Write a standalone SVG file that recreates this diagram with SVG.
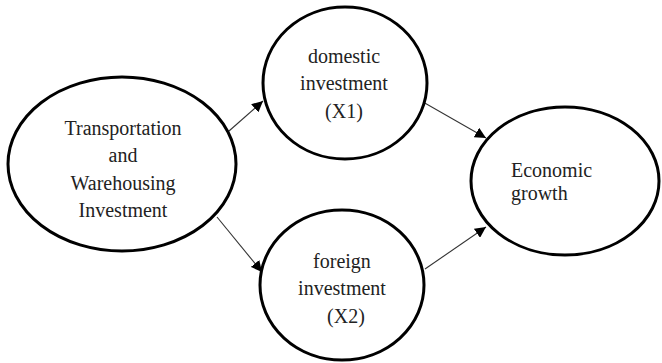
<svg xmlns="http://www.w3.org/2000/svg" width="662" height="363" viewBox="0 0 662 363">
<style>
.node{fill:#fff;stroke:#000;stroke-width:3}
.lbl{font-family:"Liberation Serif","DejaVu Serif",serif;font-size:20px;fill:#222}
.c{text-anchor:middle}
.edge{stroke:#333;stroke-width:1.1;fill:none;marker-end:url(#ah)}
</style>
<defs>
<marker id="ah" viewBox="0 0 10 10" refX="10" refY="5" markerWidth="11" markerHeight="11" markerUnits="userSpaceOnUse" orient="auto">
<path d="M0,0 L10,5 L0,10 z" fill="#000"/>
</marker>
</defs>
<g id="connectors">
<line class="edge" x1="229" y1="131" x2="263" y2="101"/>
<line class="edge" x1="217" y1="217" x2="262" y2="272"/>
<line class="edge" x1="423" y1="102" x2="486" y2="138"/>
<line class="edge" x1="425" y1="269" x2="486" y2="227"/>
</g>
<g id="n_transport">
<ellipse class="node" cx="122" cy="164" rx="114" ry="87"/>
<text class="lbl c" x="123" y="135">Transportation</text>
<text class="lbl c" x="123" y="162">and</text>
<text class="lbl c" x="123" y="190">Warehousing</text>
<text class="lbl c" x="123" y="217">Investment</text>
</g>
<g id="n_domestic">
<ellipse class="node" cx="345" cy="83" rx="82" ry="76"/>
<text class="lbl c" x="344" y="63">domestic</text>
<text class="lbl c" x="344" y="90">investment</text>
<text class="lbl c" x="344" y="118">(X1)</text>
</g>
<g id="n_foreign">
<ellipse class="node" cx="342" cy="285" rx="82" ry="75"/>
<text class="lbl c" x="342" y="268">foreign</text>
<text class="lbl c" x="342" y="295">investment</text>
<text class="lbl c" x="346" y="323">(X2)</text>
</g>
<g id="n_growth">
<ellipse class="node" cx="565" cy="181" rx="94" ry="74"/>
<text class="lbl" x="511" y="177">Economic</text>
<text class="lbl" x="511" y="200">growth</text>
</g>
</svg>
